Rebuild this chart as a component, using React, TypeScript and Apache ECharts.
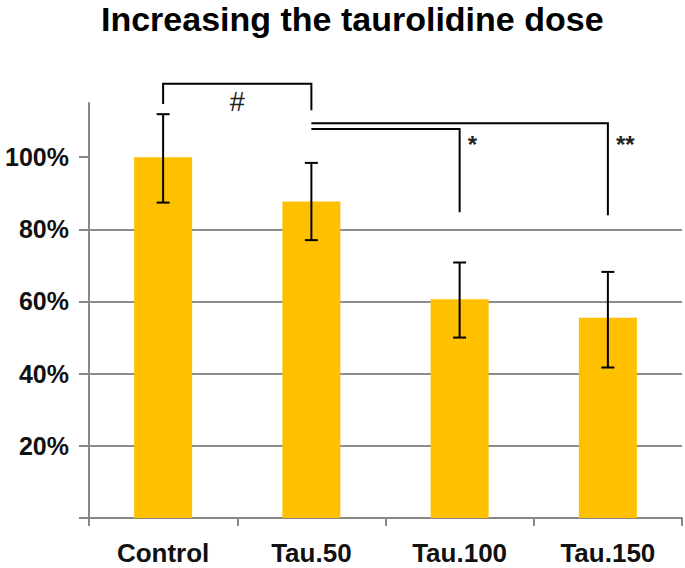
import React, { useEffect, useRef } from "react";
import * as echarts from "echarts";

const categories = ["Control", "Tau.50", "Tau.100", "Tau.150"];
const means = [100, 87.7, 60.6, 55.5];
const errUpper = [111.9, 98.4, 70.8, 68.2];
const errLower = [87.4, 77.0, 50.0, 41.7];
const yTickValues = [0, 20, 40, 60, 80, 100];

// significance brackets (category indices and values in %)
const bracketFrom = [0, 1, 1];
const bracketTo = [1, 2, 3];
const bracketTop = [120.3, 107.8, 109.4];
const bracketLeftEnd = [114.7, 107.8, 109.4];
const bracketRightEnd = [113.0, 84.7, 83.9];
const bracketLabels = ["#", "*", "**"];
const bracketLabelValue = [115.4, 103.6, 103.6];
const bracketLabelPlace = ["mid", "right", "right"];

const FONT = "'Liberation Sans', Arial, sans-serif";

export default function App() {
  const ref = useRef<HTMLDivElement>(null);

  useEffect(() => {
    if (!ref.current) return;
    const chart = echarts.init(ref.current, undefined, { renderer: "svg" });

    const errData = categories.map((_, i) => [i, errLower[i], errUpper[i]]);
    const bracketData = bracketFrom.map((f, i) => [
      f,
      bracketTo[i],
      bracketTop[i],
      bracketLeftEnd[i],
      bracketRightEnd[i],
      bracketLabelValue[i],
    ]);

    chart.setOption({
      animation: false,
      backgroundColor: "#ffffff",
      title: {
        text: "Increasing the taurolidine dose",
        left: 101,
        top: 2,
        padding: 0,
        textStyle: {
          fontFamily: FONT,
          fontSize: 34,
          fontWeight: "bold",
          color: "#000000",
        },
      },
      grid: { left: 89, right: 3, top: 103, bottom: 50, containLabel: false },
      xAxis: {
        type: "category",
        data: categories,
        boundaryGap: true,
        axisLine: { show: true, lineStyle: { color: "#878787", width: 2 } },
        axisTick: { show: true, length: 8, lineStyle: { color: "#878787", width: 2 } },
        axisLabel: {
          margin: 22,
          fontFamily: FONT,
          fontSize: 26,
          fontWeight: "bold",
          color: "#111111",
        },
        splitLine: { show: false },
      },
      yAxis: {
        type: "value",
        min: 0,
        max: 115,
        interval: 20,
        axisLine: { show: true, lineStyle: { color: "#878787", width: 2 } },
        axisTick: {
          show: true,
          length: 10,
          customValues: yTickValues,
          lineStyle: { color: "#878787", width: 2 },
        },
        axisLabel: {
          margin: 20,
          customValues: yTickValues.filter((v) => v > 0),
          formatter: "{value}%",
          fontFamily: FONT,
          fontSize: 25,
          fontWeight: "bold",
          color: "#111111",
        },
        splitLine: {
          show: true,
          showMinLine: false,
          showMaxLine: false,
          lineStyle: { color: "#8c8c8c", width: 2 },
        },
      },
      series: [
        {
          type: "bar",
          data: means,
          barWidth: 58,
          itemStyle: { color: "#FFC000" },
          z: 2,
        },
        {
          type: "custom",
          clip: false,
          z: 5,
          data: errData,
          encode: { x: 0, y: [1, 2] },
          renderItem: (params: any, api: any) => {
            const x = api.value(0);
            const lo = api.coord([x, api.value(1)]);
            const hi = api.coord([x, api.value(2)]);
            const cap = 6.5;
            const st = { stroke: "#000000", lineWidth: 2 };
            return {
              type: "group",
              children: [
                { type: "line", shape: { x1: lo[0], y1: lo[1], x2: hi[0], y2: hi[1] }, style: st },
                { type: "line", shape: { x1: lo[0] - cap, y1: lo[1], x2: lo[0] + cap, y2: lo[1] }, style: st },
                { type: "line", shape: { x1: hi[0] - cap, y1: hi[1], x2: hi[0] + cap, y2: hi[1] }, style: st },
              ],
            };
          },
        },
        {
          type: "custom",
          clip: false,
          z: 6,
          data: bracketData,
          encode: { x: [0, 1], y: [2, 3, 4] },
          renderItem: (params: any, api: any) => {
            const i = params.dataIndex;
            const f = api.value(0);
            const t = api.value(1);
            const pTopL = api.coord([f, api.value(2)]);
            const pTopR = api.coord([t, api.value(2)]);
            const pLeftEnd = api.coord([f, api.value(3)]);
            const pRightEnd = api.coord([t, api.value(4)]);
            const pLabel = api.coord([f, api.value(5)]);
            const place = bracketLabelPlace[i];
            const lx = place === "mid" ? (pTopL[0] + pTopR[0]) / 2 : pTopR[0] + 8;
            return {
              type: "group",
              children: [
                {
                  type: "polyline",
                  shape: {
                    points: [
                      [pLeftEnd[0], pLeftEnd[1]],
                      [pTopL[0], pTopL[1]],
                      [pTopR[0], pTopR[1]],
                      [pRightEnd[0], pRightEnd[1]],
                    ],
                  },
                  style: { stroke: "#000000", lineWidth: 2, fill: null },
                },
                {
                  type: "text",
                  x: lx,
                  y: pLabel[1],
                  style: {
                    text: bracketLabels[i],
                    fontFamily: FONT,
                    fontSize: place === "mid" ? 27 : 24,
                    fontWeight: place === "mid" ? "normal" : "bold",
                    fill: "#222222",
                    align: place === "mid" ? "center" : "left",
                    verticalAlign: "middle",
                  },
                },
              ],
            };
          },
        },
      ],
    });

    return () => chart.dispose();
  }, []);

  return (
    <div
      ref={ref}
      style={{ position: "fixed", left: 0, top: 0, width: 685, height: 568, background: "#fff" }}
    />
  );
}
